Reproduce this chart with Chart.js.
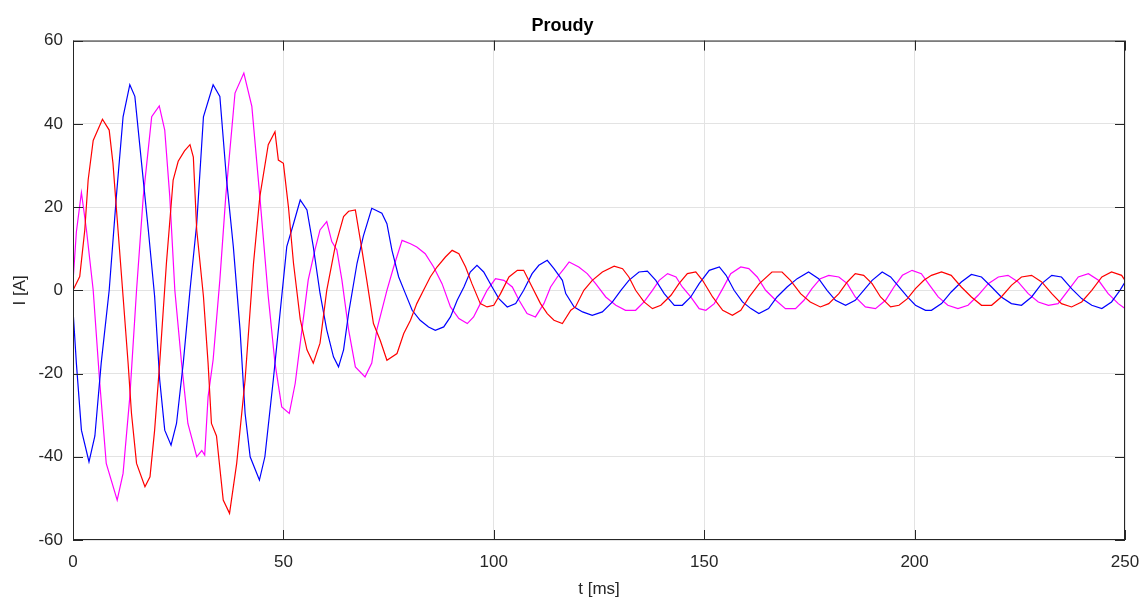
<!DOCTYPE html>
<html lang="cs">
<head>
    <meta charset="UTF-8">
    <title>Proudy</title>
    <script src="https://cdn.jsdelivr.net/npm/chart.js@4"></script>
    <style>
        body { margin: 0; background: #ffffff; }
        #wrap { width: 1145px; height: 602px; }
    </style>
</head>
<body>
<div id="wrap"><canvas id="proudyChart" width="1145" height="602"></canvas></div>
<script>
    // axis ticks
    const xTicks = [0, 50, 100, 150, 200, 250];
    const yTicks = [-60, -40, -20, 0, 20, 40, 60];

    // [t ms, I A]
    const phaseRed = [
        [0,0],[1.6,3.3],[2.8,14.5],[3.6,26.5],[4.8,36],[7,41.1],[8.6,38.5],[9.5,30.5],[10.7,14.5],[11.9,-1.5],
        [13.1,-17.6],[13.9,-29.6],[15.1,-41.6],[17.1,-47.2],[18.3,-44.8],[19.4,-33.6],[20.6,-17.5],[22.2,6.5],[23.8,26.5],[25,31],
        [26.5,33.5],[27.8,35],[28.6,32],[29.4,14.5],[31,-1.5],[32.1,-17.5],[32.9,-32],[34.1,-35],[35.7,-50.4],[37.2,-53.6],
        [38.9,-41.6],[40.9,-21.5],[42.9,6.5],[44.4,22.5],[46.4,35],[48,38.1],[48.8,31.3],[50,30.5],[51.2,20],[52.4,6.5],
        [54,-7],[55.6,-14.3],[57.1,-17.5],[58.7,-12.7],[60.3,0],[62.3,10.5],[64.3,17.7],[65.5,19],[67.1,19.3],[68.3,12],
        [69.8,2.5],[71.4,-8],[73,-12],[74.6,-16.8],[77,-15.2],[78.6,-10.4],[80.2,-7.2],[81.7,-3.2],[83.3,0],[84.9,3.2],
        [86.5,5.6],[88.5,8],[90.1,9.6],[91.7,8.8],[93.3,5.6],[94.8,1.6],[96.8,-3.2],[98.4,-4],[100,-3.6],[101.6,-0.8],
        [103.6,3.2],[105.6,4.8],[107.1,4.8],[109.1,0.8],[111.1,-3.2],[112.7,-5.6],[114.3,-7.2],[116.3,-8],[118.3,-4.8],[119.4,-4],
        [121.4,0],[123.4,2.4],[125.8,4.4],[128.6,5.8],[130.6,5.2],[132.1,3.2],[133.7,0],[135.7,-2.8],[137.7,-4.4],[139.7,-3.6],
        [142.1,-1.2],[144,1.6],[146,4],[148,4.4],[149.6,2.4],[152,-1.6],[154.4,-4.8],[156.7,-6],[158.7,-4.8],[160.7,-1.6],
        [163.1,1.6],[166.1,4.4],[168.5,4.4],[170.5,2.4],[172.9,-0.8],[175.2,-2.8],[177.6,-4],[179.6,-3.2],[182,-0.8],[184,2],
        [185.9,4],[187.9,3.6],[189.9,1.6],[191.9,-1.6],[194.3,-4],[196.3,-3.6],[198.3,-2],[200.2,0.4],[202.2,2.4],[204,3.6],
        [206.4,4.4],[208.7,3.6],[211.1,0.8],[213.5,-1.6],[215.9,-3.6],[218.3,-3.6],[220.6,-1.6],[223,1.2],[225.4,3.2],[227.8,3.6],
        [230.2,2],[232.6,-0.8],[234.9,-3.2],[237.3,-4],[239.7,-2.8],[242.1,0],[244.5,3.2],[246.8,4.4],[249.2,3.6],[250,2.4]
    ];

    const phaseBlue = [
        [0,-4.7],[0.8,-17.5],[2,-33.6],[3.8,-41.2],[5.2,-35],[6.7,-17.5],[8.6,0],[10.3,22.5],[11.9,41.7],[13.5,49.4],
        [14.7,46.6],[16.3,30.5],[17.9,14.5],[19.4,-1.5],[20.6,-21.5],[21.8,-33.6],[23.3,-37.2],[24.6,-32],[26.2,-17.5],[27.8,0],
        [29.4,16],[31,41.7],[33.3,49.4],[34.9,46.6],[36.5,26.5],[38.1,10.5],[39.7,-9.5],[40.9,-29.6],[42.1,-40],[44.3,-45.6],
        [45.6,-40],[47.6,-21.5],[49.2,-5.5],[50.8,10.5],[52.4,16],[54,21.7],[55.6,19.3],[57.1,10.5],[58.7,-0.7],[60.3,-9.5],
        [61.9,-16],[63.1,-18.4],[64.3,-14.3],[65.5,-5.5],[67.5,6.5],[69,13],[71,19.7],[73.4,18.5],[74.6,16],[75.8,9.6],
        [77.4,3.2],[79,-0.8],[80.6,-4.8],[82.5,-7.2],[84.5,-8.8],[86.1,-9.6],[88.1,-8.8],[89.7,-6.4],[91.3,-2.4],[92.9,0.8],
        [94.4,4.4],[96,6],[97.6,4.4],[99.6,0.8],[101.2,-2],[103.2,-4],[105.2,-3.2],[107.1,0],[109.1,4],[110.7,6],
        [112.7,7.2],[114.3,5.2],[116.3,2.4],[117.1,-0.8],[119.1,-4],[121.1,-5.2],[123.4,-6],[125.8,-5.2],[128.2,-2.8],[130.2,0],
        [132.1,2.4],[134.5,4.4],[136.5,4.6],[138.5,2.4],[140.5,-0.8],[142.9,-3.6],[144.8,-3.6],[146.8,-1.6],[148.8,1.6],[151.2,4.8],
        [153.6,5.6],[155.2,3.6],[157.1,0],[159.1,-2.8],[161.1,-4.4],[163,-5.6],[165.3,-4.4],[167.3,-1.6],[169.7,0.8],[172.1,2.8],
        [174.8,4.4],[177.2,2.8],[179.2,0],[181.2,-2.4],[183.6,-3.6],[185.9,-2.4],[187.9,0],[189.9,2.4],[192.3,4.4],[194.3,3.2],
        [196.3,0.8],[198.3,-1.6],[200.2,-3.6],[202.6,-4.8],[204,-4.8],[206.4,-3.2],[208.7,-0.4],[211.1,2],[213.5,3.8],[215.9,3.2],
        [218.3,0.8],[220.6,-1.6],[223,-3.2],[225.4,-3.6],[227.8,-1.6],[230.2,1.6],[232.6,3.6],[234.9,3.2],[237.3,0.4],[239.7,-2],
        [242.1,-3.6],[244.5,-4.4],[246.8,-2.8],[248.8,0],[250,2]
    ];

    const phaseMagenta = [
        [0,2],[0.8,14],[2,23.5],[3.2,14.5],[4.8,0],[6.3,-21.5],[7.9,-41.6],[10.5,-50.4],[11.9,-44],[13.5,-25.6],
        [15.1,0],[16.7,22.5],[18.7,41.7],[20.5,44.3],[21.8,38.5],[23,22.5],[24.2,0],[25.8,-17.5],[27.3,-32],[29.4,-40],
        [30.6,-38.5],[31.3,-39.6],[32.1,-25.6],[33.3,-16.7],[34.9,2.5],[36.3,22.5],[38.5,47.4],[40.6,52.2],[42.5,44.2],[44.4,22.5],
        [46.4,-1.5],[48,-17.5],[49.6,-28],[51.4,-29.6],[52.8,-22.4],[54.4,-9.5],[55.9,2.5],[57.5,9.7],[58.7,14.5],[60.3,16.5],
        [61.5,11.7],[62.7,9.7],[63.9,2.5],[65.5,-9.5],[67.1,-18.4],[69.4,-20.8],[71,-17.5],[72.2,-9.5],[74.6,0],[76.2,5.6],
        [78.2,12],[80.2,11.2],[81.7,10.4],[83.7,8.8],[85.7,5.6],[87.7,1.6],[89.7,-4],[91.7,-6.8],[93.7,-8],[95.2,-6.4],
        [96.8,-3.2],[98.4,0],[100.4,2.8],[102.4,2.4],[104.4,0.8],[106,-2.4],[107.9,-5.6],[109.9,-6.4],[111.9,-3.2],[113.5,0.8],
        [115.1,3.2],[116.7,5.2],[117.9,6.8],[120.2,5.6],[122.2,4],[124.2,1.6],[126.6,-1.6],[129,-3.6],[131.3,-4.8],[133.7,-4.8],
        [135.7,-2.8],[137.7,0],[139.3,2.4],[141.3,4],[143.3,3.2],[144.8,0.8],[146.8,-1.6],[148.8,-4.4],[150.4,-4.8],[152.4,-3.2],
        [154.4,0.4],[156.3,4],[158.7,5.6],[160.6,5.2],[162.6,3.2],[164.6,0],[167,-2.4],[169.3,-4.4],[171.7,-4.4],[173.7,-2.4],
        [175.6,0.4],[177.6,2.8],[179.6,3.6],[182,3.2],[184,1.6],[185.9,-1.6],[188.3,-4],[190.7,-4.4],[193.1,-2.4],[195.1,0.8],
        [197.1,3.6],[199.4,4.8],[201.6,4],[203.6,1.2],[205.6,-1.6],[207.9,-3.6],[210.3,-4.4],[212.7,-3.6],[215.1,-1.2],[217.5,1.6],
        [219.9,3.2],[222.2,3.6],[224.6,2],[227,-0.8],[229.4,-2.8],[231.8,-3.6],[234.1,-3.2],[236.5,0],[238.9,3.2],[241.3,4],
        [243.7,2.4],[246,-0.8],[248.4,-3.2],[250,-4.4]
    ];

    const toPoints = arr => arr.map(p => ({ x: p[0], y: p[1] }));
    const axisColor = '#262626';
    const fontFamily = '"Liberation Sans", Arial, Helvetica, sans-serif';

    // box around the plot with small inward ticks (matlab look)
    const boxPlugin = {
        id: 'boxPlugin',
        afterDatasetsDraw(chart) {
            const { ctx, chartArea: a, scales } = chart;
            ctx.save();
            ctx.strokeStyle = axisColor;
            ctx.lineWidth = 1;
            ctx.strokeRect(a.left + 0.5, a.top + 0.5, a.right - a.left - 1, a.bottom - a.top - 1);
            ctx.beginPath();
            xTicks.forEach(v => {
                let x = Math.round(scales.x.getPixelForValue(v)) + 0.5;
                ctx.moveTo(x, a.bottom); ctx.lineTo(x, a.bottom - 10);
                ctx.moveTo(x, a.top); ctx.lineTo(x, a.top + 10);
            });
            yTicks.forEach(v => {
                let y = Math.round(scales.y.getPixelForValue(v)) + 0.5;
                ctx.moveTo(a.left, y); ctx.lineTo(a.left + 10, y);
                ctx.moveTo(a.right, y); ctx.lineTo(a.right - 10, y);
            });
            ctx.stroke();
            ctx.restore();
        }
    };

    new Chart(document.getElementById('proudyChart').getContext('2d'), {
        type: 'line',
        data: {
            datasets: [
                { label: 'Ia', data: toPoints(phaseRed), borderColor: '#ff0000' },
                { label: 'Ib', data: toPoints(phaseBlue), borderColor: '#0000ff' },
                { label: 'Ic', data: toPoints(phaseMagenta), borderColor: '#ff00ff' }
            ]
        },
        options: {
            responsive: false,
            animation: false,
            datasets: { line: { borderWidth: 1.2, pointRadius: 0, tension: 0, fill: false } },
            layout: { padding: { left: 0, right: 20, top: 0, bottom: 0 } },
            plugins: {
                legend: { display: false },
                tooltip: { enabled: false },
                title: {
                    display: true,
                    text: 'Proudy',
                    color: '#000000',
                    font: { family: fontFamily, size: 18, weight: 'bold' },
                    padding: { top: 15, bottom: 4 }
                }
            },
            scales: {
                x: {
                    type: 'linear',
                    min: 0,
                    max: 250,
                    afterBuildTicks: s => { s.ticks = xTicks.map(v => ({ value: v })); },
                    afterFit: s => { s.height = 62; s.paddingLeft = 0; s.paddingRight = 0; },
                    grid: { color: '#e3e3e3', drawTicks: false },
                    border: { display: false },
                    ticks: { color: axisColor, padding: 12, font: { family: fontFamily, size: 17 }, maxRotation: 0 },
                    title: { display: true, text: 't [ms]', color: axisColor, padding: { top: 0, bottom: 2 }, font: { family: fontFamily, size: 17 } }
                },
                y: {
                    min: -60,
                    max: 60,
                    afterBuildTicks: s => { s.ticks = yTicks.map(v => ({ value: v })); },
                    afterFit: s => { s.width = 73; },
                    grid: { color: '#e3e3e3', drawTicks: false },
                    border: { display: false },
                    ticks: { color: axisColor, padding: 10, font: { family: fontFamily, size: 17 } },
                    title: { display: true, text: 'I [A]', color: axisColor, padding: { top: 10, bottom: 0 }, font: { family: fontFamily, size: 17 } }
                }
            }
        },
        plugins: [boxPlugin]
    });
</script>
</body>
</html>
